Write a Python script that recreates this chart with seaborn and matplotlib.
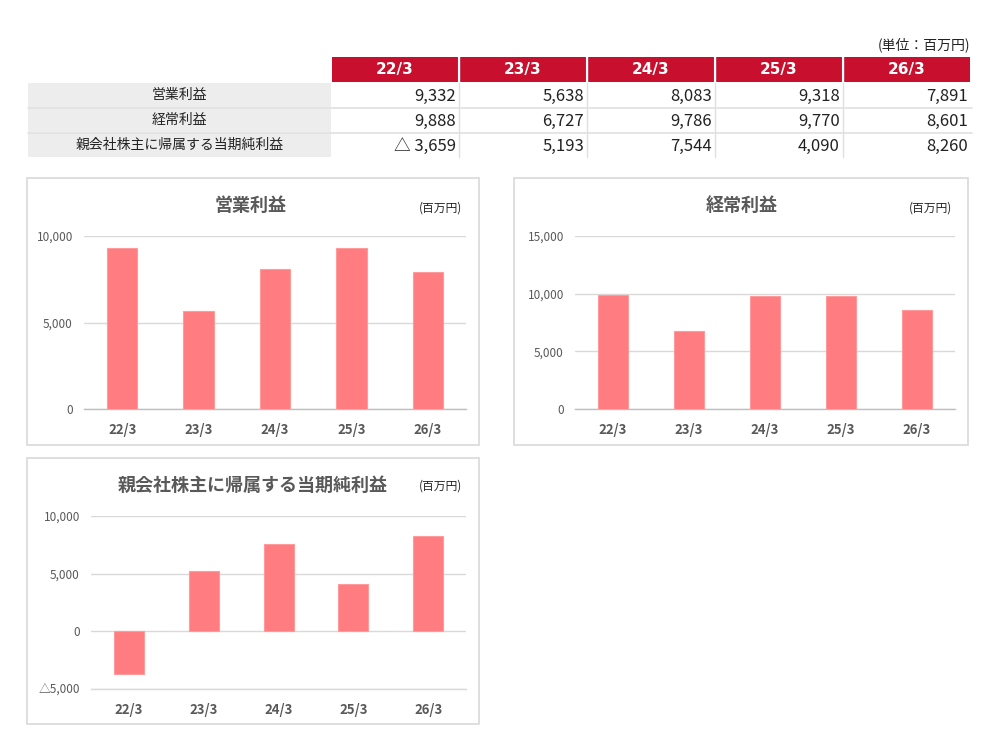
import matplotlib
matplotlib.use("Agg")
import matplotlib.pyplot as plt
import seaborn as sns
import pandas as pd
import numpy as np
from matplotlib.patches import Rectangle
from matplotlib.ticker import FuncFormatter, FixedLocator

categories = ['22/3', '23/3', '24/3', '25/3', '26/3']
operating_profit = [9332, 5638, 8083, 9318, 7891]
ordinary_profit = [9888, 6727, 9786, 9770, 8601]
net_profit = [-3659, 5193, 7544, 4090, 8260]
row_labels = ['営業利益', '経常利益', '親会社株主に帰属する当期純利益']
unit_label = '(単位：百万円)'
chart_unit = '(百万円)'

sns.set_theme(style="white")
plt.rcParams['font.family'] = ['Noto Sans CJK JP', 'DejaVu Sans']

W, H = 1000, 750
fig = plt.figure(figsize=(10, 7.5), dpi=100)
fig.patch.set_facecolor('white')

RED = '#C8102E'
BAR = '#FF7C80'
TXT = '#595959'
GRID = '#D9D9D9'


def fax(x0, y0, x1, y1, **kw):
    return fig.add_axes([x0 / W, 1 - y1 / H, (x1 - x0) / W, (y1 - y0) / H], **kw)


# ---------- overlay axes in pixel coordinates ----------
bg = fax(0, 0, W, H, zorder=0)
bg.set_xlim(0, W)
bg.set_ylim(H, 0)
bg.axis('off')


def fmt_table(v):
    return f'△ {abs(v):,}' if v < 0 else f'{v:,}'


# unit label
bg.text(970, 45, unit_label, ha='right', va='center', fontsize=10, color='#222222')

# table
col_x = [332, 460, 588, 716, 844]
col_w = 126
head_y0, head_y1 = 57, 82
row_y = [(83, 107), (108, 132), (133, 157)]
for cx, cat in zip(col_x, categories):
    bg.add_patch(Rectangle((cx, head_y0), col_w, head_y1 - head_y0, facecolor=RED, edgecolor='none'))
    bg.text(cx + col_w / 2, (head_y0 + head_y1) / 2, cat, ha='center', va='center',
            fontsize=11, fontweight='bold', color='white', family='DejaVu Sans')
table_rows = [operating_profit, ordinary_profit, net_profit]
for (ry0, ry1), lab, vals in zip(row_y, row_labels, table_rows):
    bg.add_patch(Rectangle((28, ry0), 331 - 28, ry1 - ry0, facecolor='#EDEDED', edgecolor='none'))
    bg.text((28 + 331) / 2, (ry0 + ry1) / 2, lab, ha='center', va='center', fontsize=10, color='#222222')
    for cx, v in zip(col_x, vals):
        bg.text(cx + col_w - 2, (ry0 + ry1) / 2 + 1, fmt_table(v), ha='right', va='center',
                fontsize=12, color='#222222')
# separators
for (ry0, ry1) in row_y[:-1]:
    bg.plot([28, 972], [ry1 + 0.5, ry1 + 0.5], color='#E0E0E0', lw=1.2)
for cx in col_x[1:]:
    bg.plot([cx - 1, cx - 1], [57, 157], color='#E0E0E0', lw=1)
    bg.plot([cx - 1, cx - 1], [57, 82], color='white', lw=1.5)

# chart frames
frames = [(27, 178, 479, 445), (514, 178, 968, 445), (27, 458, 479, 724)]
for x0, y0, x1, y1 in frames:
    bg.add_patch(Rectangle((x0, y0), x1 - x0, y1 - y0, facecolor='none', edgecolor='#D9D9D9', lw=1.2))


def yfmt(v, pos):
    return f'△{abs(v):,.0f}' if v < 0 else f'{v:,.0f}'


def make_chart(box, values, ymin, ymax, yticks, title, title_xy, unit_xy, show_minor=True):
    ax = fax(*box, zorder=2)
    df = pd.DataFrame({'cat': categories, 'val': values})
    sns.barplot(data=df, x='cat', y='val', color=BAR, width=0.4, ax=ax,
                saturation=1, edgecolor='#FF9A9D', linewidth=0.8, zorder=3)
    ax.set_xlim(-0.5, len(categories) - 0.5)
    ax.set_ylim(ymin, ymax)
    ax.set_yticks(yticks)
    ax.yaxis.set_major_formatter(FuncFormatter(yfmt))
    ax.grid(axis='y', color=GRID, lw=1, zorder=0)
    ax.set_axisbelow(True)
    for s in ['top', 'right', 'left']:
        ax.spines[s].set_visible(False)
    ax.spines['bottom'].set_color('#BFBFBF' if show_minor else GRID)
    ax.spines['bottom'].set_linewidth(1)
    ax.set_xlabel('')
    ax.set_ylabel('')
    ax.tick_params(axis='y', length=0, pad=8, labelsize=8.5, labelcolor=TXT)
    ax.tick_params(axis='x', which='major', length=0, pad=10, labelsize=9.5, labelcolor=TXT)
    for t in ax.get_xticklabels():
        t.set_fontweight('bold')
    if show_minor:
        ax.xaxis.set_minor_locator(FixedLocator(np.arange(-0.5, len(categories), 1.0)))
        ax.tick_params(axis='x', which='minor', length=5, color='#BFBFBF', width=1)
    ax.patch.set_alpha(0)
    bg.text(title_xy[0], title_xy[1], title, ha='center', va='center', fontsize=13,
            fontweight='bold', color=TXT)
    bg.text(unit_xy[0], unit_xy[1], chart_unit, ha='center', va='center', fontsize=8.5, color='#222222')
    return ax


make_chart((84, 236, 466, 409), operating_profit, 0, 10000, [0, 5000, 10000],
           row_labels[0], (251, 205), (441, 208))
make_chart((575, 236, 955, 409), ordinary_profit, 0, 15000, [0, 5000, 10000, 15000],
           row_labels[1], (742, 205), (930, 208))
make_chart((91, 516, 466, 689), net_profit, -5000, 10000, [-5000, 0, 5000, 10000],
           row_labels[2], (253, 485), (441, 486), show_minor=False)

fig.savefig('out.png', dpi=100, facecolor='white')
